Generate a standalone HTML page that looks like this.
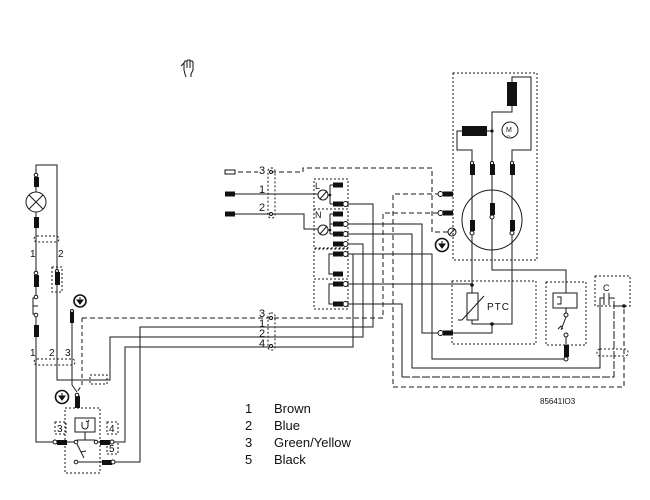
<!DOCTYPE html>
<html>
<head>
<meta charset="utf-8">
<style>
html,body{margin:0;padding:0;background:#fff;}
svg{display:block;}
text{font-family:"Liberation Sans","DejaVu Sans",sans-serif;fill:#111;}
</style>
</head>
<body>
<svg width="650" height="500" viewBox="0 0 650 500" xmlns="http://www.w3.org/2000/svg">
<rect width="650" height="500" fill="#fff"/>

<!-- hand icon -->
<g stroke="#111" stroke-width="1" fill="none">
<path d="M181,66 L184,63 L184,70 M184,63 L185,61 L187,61 L187,68 M187,61 L188,60 L190,60 L190,68 M190,61 L192,61 L193,62 L193,70 L191,74 L191,77 M184,70 L185,74 L186,77"/>
</g>

<!-- ================= LEFT UNIT ================= -->
<g stroke="#1a1a1a" stroke-width="1" fill="none">
  <!-- wire x=36 -->
  <path d="M36,175 V165 H57 V380 H110 V337 H363 V244 H348"/>
  <path d="M36,175 V297"/>
  <path d="M36,315 V442 H53"/>
  <!-- lamp -->
  <circle cx="36" cy="202" r="10" fill="#fff"/>
  <path d="M29,195 L43,209 M43,195 L29,209"/>
  <!-- door switch -->
  <path d="M35,298 H33 V314 H35 M33,306 H38"/>
  <circle cx="36" cy="297" r="1.8" fill="#fff"/>
  <circle cx="36" cy="315" r="1.8" fill="#fff"/>
  <!-- dashed capsule top -->
  <rect x="34" y="236" width="25" height="6" rx="3" stroke-dasharray="2 2"/>
  <!-- dashed box around connector on wire 2 -->
  <rect x="52" y="267" width="10" height="25" stroke-dasharray="2 2"/>
  <!-- capsule lower -->
  <rect x="34" y="359" width="41" height="6" rx="3" stroke-dasharray="2 2"/>
  <!-- green/yellow wire 3 -->
  <path d="M72,323 V385 L77,392"/>
  <path d="M82,318 V385 L77,392" stroke-dasharray="4 3"/>
  <!-- dashed box on lamp wire -->
  <rect x="90" y="375" width="17" height="9" stroke-dasharray="2 2"/>
  <!-- switch box -->
  <rect x="65" y="408" width="35" height="65" stroke-dasharray="2 2"/>
  <rect x="75" y="418" width="20" height="14"/>
  <path d="M82,422 V426 A3,3 0 0,0 88,426 V422 M86,421 L88,422 L89,420"/>
  <path d="M85,432 V440 M77,440 H95"/>
  <circle cx="76" cy="442" r="1.8" fill="#fff"/>
  <circle cx="96" cy="442" r="1.8" fill="#fff"/>
  <path d="M77,444 L84,458 M81,452 L86,451"/>
  <circle cx="76" cy="462" r="1.8" fill="#fff"/>
  <path d="M78,462 H102"/>
  <path d="M67,442 H74"/>
  <path d="M98,442 H100"/>
  <!-- wires from switch -->
  <path d="M114,442 H125 V347 H353 V254"/>
  <path d="M115,462 H140 V327 H373 V204 H348"/>
  <!-- label boxes -->
  <rect x="55" y="422" width="11" height="12" stroke-dasharray="2 2"/>
  <rect x="107" y="422" width="11" height="12" stroke-dasharray="2 2"/>
  <rect x="107" y="442" width="11" height="12" stroke-dasharray="2 2"/>
</g>
<g fill="#111">
  <rect x="34" y="177" width="5" height="10"/>
  <rect x="34" y="217" width="5" height="11"/>
  <rect x="34" y="275" width="5" height="12"/>
  <rect x="34" y="325" width="5" height="12"/>
  <rect x="55" y="272" width="5" height="13"/>
  <rect x="70" y="312" width="4" height="11"/>
  <rect x="75" y="396" width="5" height="12"/>
  <rect x="57" y="440" width="10" height="5"/>
  <rect x="100" y="440" width="10" height="5"/>
  <rect x="102" y="460" width="10" height="5"/>
</g>
<g stroke="#111" stroke-width="1" fill="#fff">
  <circle cx="36" cy="175" r="1.8"/>
  <circle cx="36" cy="273" r="1.8"/>
  <circle cx="57" cy="271" r="1.5"/>
  <circle cx="72" cy="311" r="1.5"/>
  <circle cx="77" cy="395" r="1.8"/>
  <circle cx="55" cy="442" r="2"/>
  <circle cx="112" cy="442" r="2"/>
  <circle cx="113" cy="462" r="2"/>
</g>
<g font-size="10">
  <text x="30" y="257">1</text>
  <text x="58" y="257">2</text>
  <text x="30" y="356">1</text>
  <text x="49" y="356">2</text>
  <text x="65" y="356">3</text>
  <text x="57" y="432">3</text>
  <text x="109" y="432">4</text>
  <text x="109" y="452">5</text>
</g>

<!-- earth symbols -->
<g>
  <g transform="translate(80,301)">
    <circle r="6" fill="#fff" stroke="#111" stroke-width="1.6"/>
    <path d="M0,-4 V-1 M-3,-1 H3 L0,3 Z" stroke="#111" stroke-width="1" fill="#111"/>
  </g>
  <g transform="translate(62,397)">
    <circle r="6.5" fill="#fff" stroke="#111" stroke-width="1.6"/>
    <path d="M0,-4 V-1 M-3,-1 H3 L0,3 Z" stroke="#111" stroke-width="1" fill="#111"/>
  </g>
  <g transform="translate(442,245)">
    <circle r="6.5" fill="#fff" stroke="#111" stroke-width="1.6"/>
    <path d="M0,-4 V-1 M-3,-1 H3 L0,3 Z" stroke="#111" stroke-width="1" fill="#111"/>
  </g>
</g>

<!-- ================= MIDDLE ================= -->
<g stroke="#1a1a1a" stroke-width="1" fill="none">
  <!-- dashed green/yellow lines -->
  <path d="M82,318 H383 V213 H440" stroke-dasharray="5 3"/>
  <path d="M238,172 H258" stroke-dasharray="5 3"/>
  <path d="M271,172 H303 V168 H432 V232 H448" stroke-dasharray="5 3"/>
  <path d="M440,194 H393 V387 H624 V306" stroke-dasharray="5 3"/>
  <path d="M614,306 H630" stroke-dasharray="3 2"/>
  <!-- input wires -->
  <path d="M235,194 H318"/>
  <path d="M235,214 H304 V229 H318"/>
  <!-- capsules -->
  <rect x="268" y="168" width="7" height="50" rx="3" stroke-dasharray="2 2"/>
  <rect x="268" y="313" width="7" height="37" rx="3" stroke-dasharray="2 2"/>
  <!-- terminal boxes -->
  <rect x="314" y="179" width="34" height="30" stroke-dasharray="2 2"/>
  <rect x="314" y="209" width="34" height="39" stroke-dasharray="2 2"/>
  <rect x="314" y="249" width="34" height="30" stroke-dasharray="2 2"/>
  <rect x="314" y="279" width="34" height="30" stroke-dasharray="2 2"/>
  <!-- L / N fuses -->
  <circle cx="323" cy="195" r="5" fill="#fff"/>
  <path d="M320,199 L327,191"/>
  <circle cx="323" cy="230" r="5" fill="#fff"/>
  <path d="M320,234 L327,226"/>
  <path d="M328,195 H330 M330,185 V204 M330,185 H333 M330,204 H333"/>
  <path d="M328,230 H330 M330,214 V234 M330,214 H333 M330,224 H333 M330,234 H333"/>
  <path d="M333,254 H329 V274 H333"/>
  <path d="M333,284 H329 V304 H333"/>
  <!-- outgoing wires -->
  <path d="M348,224 H422 V333 H440"/>
  <path d="M452,333 H492 V324"/>
  <path d="M348,234 H412 V368 H600 V298 H604"/>
  <path d="M348,254 H432 V359 H564"/>
  <path d="M348,284 H472"/>
  <path d="M348,304 H402 V377"/>
  <path d="M402,377 H614 V298 H609" stroke-dasharray="8 2"/>
</g>
<g fill="#111">
  <rect x="225" y="191.5" width="10" height="5"/>
  <rect x="225" y="211.5" width="10" height="5"/>
  <rect x="333" y="182.5" width="10" height="5"/>
  <rect x="333" y="201.5" width="10" height="5"/>
  <rect x="333" y="211.5" width="10" height="5"/>
  <rect x="333" y="221.5" width="10" height="5"/>
  <rect x="333" y="231.5" width="10" height="5"/>
  <rect x="333" y="241.5" width="10" height="5"/>
  <rect x="333" y="251.5" width="10" height="5"/>
  <rect x="333" y="271.5" width="10" height="5"/>
  <rect x="333" y="281.5" width="10" height="5"/>
  <rect x="333" y="301.5" width="10" height="5"/>
  <rect x="443" y="191.5" width="10" height="5"/>
  <rect x="443" y="210.5" width="10" height="5"/>
  <rect x="443" y="330.5" width="10" height="5"/>
  <circle cx="330" cy="195" r="1.3"/>
  <circle cx="330" cy="230" r="1.3"/>
</g>
<rect x="225" y="170" width="10" height="4" fill="#fff" stroke="#111" stroke-width="1"/>
<g stroke="#111" stroke-width="1" fill="#fff">
  <circle cx="345.5" cy="204" r="2.5"/>
  <circle cx="345.5" cy="224" r="2.5"/>
  <circle cx="345.5" cy="234" r="2.5"/>
  <circle cx="345.5" cy="244" r="2.5"/>
  <circle cx="345.5" cy="254" r="2.5"/>
  <circle cx="345.5" cy="284" r="2.5"/>
  <circle cx="345.5" cy="304" r="2.5"/>
  <circle cx="440.5" cy="194" r="2.5"/>
  <circle cx="440.5" cy="213" r="2.5"/>
  <circle cx="440.5" cy="333" r="2.5"/>
  <circle cx="271" cy="172" r="1.5"/>
  <circle cx="271" cy="214" r="1.5"/>
  <circle cx="271" cy="318" r="1.5"/>
  <circle cx="271" cy="346" r="1.5"/>
  <!-- screw -->
  <circle cx="452" cy="232" r="4"/>
</g>
<path d="M449,235 L455,229" stroke="#111" stroke-width="1"/>
<g font-size="11">
  <text x="259" y="174">3</text>
  <text x="259" y="193">1</text>
  <text x="259" y="211">2</text>
  <text x="259" y="317">3</text>
  <text x="259" y="327">1</text>
  <text x="259" y="337">2</text>
  <text x="259" y="347">4</text>
</g>
<g font-size="9">
  <text x="315" y="189">L</text>
  <text x="315" y="218">N</text>
</g>

<!-- ================= MOTOR ================= -->
<g stroke="#1a1a1a" stroke-width="1" fill="none">
  <rect x="453" y="73" width="84" height="187" stroke-dasharray="2 2"/>
  <path d="M512,82 V77 H531 V150 H512 V164"/>
  <path d="M512,106 V112 H492 V164"/>
  <path d="M487,131 H492"/>
  <path d="M462,131 H457 V150 H472 V164"/>
  <circle cx="510" cy="130" r="8"/>
  <circle cx="492" cy="220" r="30"/>
  <path d="M472,175 V220 M472,235 V285"/>
  <path d="M492,175 V203 M492,219 V270 H566 V293"/>
  <path d="M512,175 V220 M512,235 V324 H472 V320"/>
  <!-- PTC -->
  <rect x="452" y="281" width="84" height="63" stroke-dasharray="2 2"/>
  <path d="M472,285 V293"/>
  <rect x="467" y="293" width="11" height="27" fill="#fff"/>
  <path d="M458,320 H462 L484,296"/>
  <!-- thermal switch -->
  <rect x="546" y="282" width="40" height="63" stroke-dasharray="2 2"/>
  <rect x="553" y="293" width="24" height="15"/>
  <path d="M557,297 H561 V304 H557"/>
  <path d="M566,308 V313"/>
  <path d="M566,317 L561,330 M558,329 L561,326 L563,329"/>
  <path d="M566,337 V345"/>
  <!-- capacitor -->
  <rect x="595" y="276" width="35" height="30" stroke-dasharray="2 2"/>
  <path d="M604,293 V305 M609,293 V305"/>
  <rect x="597" y="349" width="31" height="7" rx="3" stroke-dasharray="2 2"/>
</g>
<g fill="#111">
  <rect x="507" y="82" width="10" height="24"/>
  <rect x="462" y="126" width="25" height="10"/>
  <circle cx="492" cy="131" r="1.6"/>
  <rect x="470" y="164" width="5" height="11"/>
  <rect x="490" y="164" width="5" height="11"/>
  <rect x="510" y="164" width="5" height="11"/>
  <rect x="470" y="220" width="5" height="11"/>
  <rect x="490" y="203" width="5" height="12"/>
  <rect x="510" y="220" width="5" height="11"/>
  <circle cx="472" cy="285" r="1.8"/>
  <circle cx="492" cy="324" r="1.8"/>
  <circle cx="624" cy="306" r="1.8"/>
  <rect x="564" y="345" width="5" height="12"/>
</g>
<g stroke="#111" stroke-width="1" fill="#fff">
  <circle cx="472" cy="163" r="1.6"/>
  <circle cx="492" cy="163" r="1.6"/>
  <circle cx="512" cy="163" r="1.6"/>
  <circle cx="472" cy="233" r="2"/>
  <circle cx="492" cy="217" r="2"/>
  <circle cx="512" cy="233" r="2"/>
  <circle cx="566" cy="315" r="2"/>
  <circle cx="566" cy="335" r="2"/>
  <circle cx="566" cy="359" r="2"/>
</g>
<text x="506" y="132" font-size="7">M</text>
<text x="507" y="138" font-size="6">~</text>
<text x="487" y="310" font-size="10" letter-spacing="1">PTC</text>
<text x="603" y="291" font-size="9">C</text>
<text x="540" y="404" font-size="8">85641IO3</text>

<!-- ================= LEGEND ================= -->
<g font-size="13">
  <text x="245" y="413">1</text><text x="274" y="413">Brown</text>
  <text x="245" y="430">2</text><text x="274" y="430">Blue</text>
  <text x="245" y="447">3</text><text x="274" y="447">Green/Yellow</text>
  <text x="245" y="464">5</text><text x="274" y="464">Black</text>
</g>
</svg>
</body>
</html>
